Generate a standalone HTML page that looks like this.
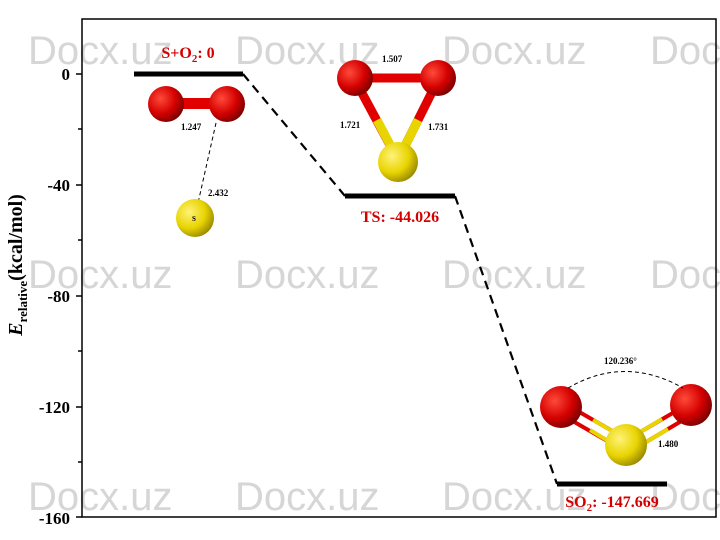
<!DOCTYPE html>
<html><head><style>body{margin:0;background:#fff}svg{display:block}</style></head><body>
<svg width="720" height="540" xmlns="http://www.w3.org/2000/svg" font-family="Liberation Serif, serif">
<defs>
<radialGradient id="r" cx="0.35" cy="0.35" r="0.7"><stop offset="0" stop-color="#ff4a3a"/><stop offset="0.6" stop-color="#d40000"/><stop offset="1" stop-color="#7a0000"/></radialGradient>
<radialGradient id="y" cx="0.35" cy="0.35" r="0.7"><stop offset="0" stop-color="#fff27a"/><stop offset="0.6" stop-color="#e8d400"/><stop offset="1" stop-color="#9a8a00"/></radialGradient>
</defs>
<g fill="#d6d6d6" font-family="Liberation Sans, sans-serif" font-size="40">
<text x="28" y="64">Docx.uz</text><text x="235" y="64">Docx.uz</text><text x="442" y="64">Docx.uz</text><text x="650" y="64">Docx.uz</text>
<text x="28" y="288">Docx.uz</text><text x="235" y="288">Docx.uz</text><text x="442" y="288">Docx.uz</text><text x="650" y="288">Docx.uz</text>
<text x="28" y="510">Docx.uz</text><text x="235" y="510">Docx.uz</text><text x="442" y="510">Docx.uz</text><text x="650" y="510">Docx.uz</text>
</g>
<rect x="82" y="19" width="634" height="498" fill="none" stroke="#000" stroke-width="1.5"/>
<g stroke="#000" stroke-width="1.5">
<line x1="76" y1="74" x2="82" y2="74"/><line x1="78" y1="129" x2="82" y2="129"/><line x1="76" y1="185" x2="82" y2="185"/><line x1="78" y1="240" x2="82" y2="240"/><line x1="76" y1="296" x2="82" y2="296"/><line x1="78" y1="351" x2="82" y2="351"/><line x1="76" y1="407" x2="82" y2="407"/><line x1="78" y1="462" x2="82" y2="462"/><line x1="76" y1="517" x2="82" y2="517"/>
</g>
<g font-weight="bold" font-size="17" text-anchor="end">
<text x="70" y="80">0</text><text x="70" y="191">-40</text><text x="70" y="302">-80</text><text x="70" y="413">-120</text><text x="70" y="524">-160</text>
</g>
<text transform="translate(22,265) rotate(-90)" text-anchor="middle" font-weight="bold" font-size="20"><tspan font-style="italic">E</tspan><tspan font-size="13" dy="5">relative</tspan><tspan dy="-5">(kcal/mol)</tspan></text>
<g stroke="#000" stroke-width="5"><line x1="134" y1="74" x2="243" y2="74"/><line x1="345" y1="196" x2="455" y2="196"/><line x1="557" y1="484" x2="667" y2="484"/></g>
<g stroke="#000" stroke-width="2.2" stroke-dasharray="9,6" fill="none"><line x1="243" y1="74" x2="345" y2="196"/><line x1="455" y1="196" x2="557" y2="484"/></g>
<g fill="#d40000" font-weight="bold" font-size="16" text-anchor="middle">
<text x="188" y="58">S+O<tspan font-size="11" dy="4">2</tspan><tspan dy="-4">: 0</tspan></text>
<text x="400" y="222">TS: -44.026</text>
<text x="612" y="507">SO<tspan font-size="11" dy="4">2</tspan><tspan dy="-4">: -147.669</tspan></text>
</g>
<!-- O2 + S -->
<rect x="166" y="98" width="62" height="11" fill="#e00000"/>
<circle cx="166" cy="104" r="18" fill="url(#r)"/><circle cx="227" cy="104" r="18" fill="url(#r)"/>
<line x1="216" y1="123" x2="196" y2="212" stroke="#000" stroke-dasharray="4,3"/>
<circle cx="195" cy="218" r="19" fill="url(#y)"/>
<g font-size="9" font-weight="bold"><text x="181" y="130">1.247</text><text x="208" y="196">2.432</text><text x="192" y="221" font-size="7">S</text></g>
<!-- TS -->
<g stroke-width="9"><line x1="355" y1="78" x2="438" y2="78" stroke="#e00000"/><line x1="355" y1="80" x2="398" y2="160" stroke="#e00000"/><line x1="438" y1="80" x2="398" y2="160" stroke="#e00000"/><line x1="377" y1="120" x2="398" y2="160" stroke="#e8d400"/><line x1="418" y1="120" x2="398" y2="160" stroke="#e8d400"/></g>
<circle cx="355" cy="78" r="18" fill="url(#r)"/><circle cx="438" cy="78" r="18" fill="url(#r)"/><circle cx="398" cy="162" r="20" fill="url(#y)"/>
<g font-size="9" font-weight="bold"><text x="382" y="62">1.507</text><text x="340" y="128">1.721</text><text x="428" y="130">1.731</text></g>
<!-- SO2 -->
<g stroke-width="4"><line x1="562" y1="402" x2="628" y2="440" stroke="#e00000"/><line x1="557" y1="412" x2="623" y2="450" stroke="#e00000"/><line x1="593" y1="420" x2="628" y2="440" stroke="#e8d400"/><line x1="590" y1="430" x2="623" y2="450" stroke="#e8d400"/>
<line x1="695" y1="400" x2="630" y2="438" stroke="#e00000"/><line x1="700" y1="410" x2="636" y2="448" stroke="#e00000"/><line x1="662" y1="419" x2="630" y2="438" stroke="#e8d400"/><line x1="668" y1="429" x2="636" y2="448" stroke="#e8d400"/></g>
<circle cx="561" cy="407" r="21" fill="url(#r)"/><circle cx="691" cy="405" r="21" fill="url(#r)"/><circle cx="626" cy="445" r="21" fill="url(#y)"/>
<path d="M568 388 Q625 355 683 388" fill="none" stroke="#000" stroke-dasharray="4,3"/>
<g font-size="9" font-weight="bold"><text x="604" y="364">120.236°</text><text x="658" y="447">1.480</text></g>
</svg>
</body></html>
